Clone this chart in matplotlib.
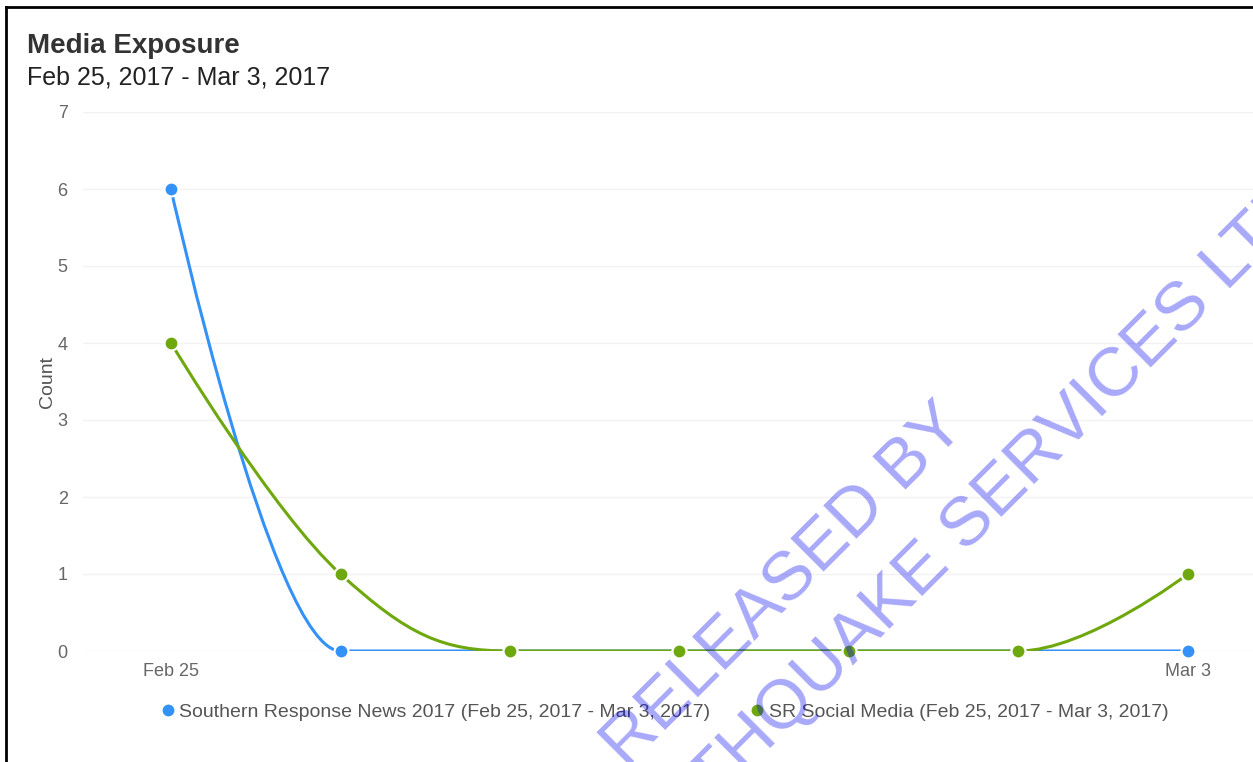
import numpy as np
import matplotlib
matplotlib.use("Agg")
import matplotlib.pyplot as plt
from matplotlib.path import Path
from matplotlib.patches import PathPatch
from matplotlib.lines import Line2D

plt.rcParams['font.family'] = ['Liberation Sans', 'DejaVu Sans']

# data
days = ['Feb 25', 'Feb 26', 'Feb 27', 'Feb 28', 'Mar 1', 'Mar 2', 'Mar 3']
news = [6, 0, 0, 0, 0, 0, 0]
social = [4, 1, 0, 0, 0, 0, 1]
news_label = 'Southern Response News 2017 (Feb 25, 2017 - Mar 3, 2017)'
social_label = 'SR Social Media (Feb 25, 2017 - Mar 3, 2017)'
yticks = [0, 1, 2, 3, 4, 5, 6, 7]

blue = '#3391f7'
green = '#6ea80e'


def spline_path(xs, ys, smooth=1.5):
    # highcharts style spline, control points from neighbours
    n = len(xs)
    left = [None] * n
    right = [None] * n
    for i in range(1, n - 1):
        lx, ly = xs[i - 1], ys[i - 1]
        px, py = xs[i], ys[i]
        nx, ny = xs[i + 1], ys[i + 1]
        d = smooth + 1
        lcx, lcy = (smooth * px + lx) / d, (smooth * py + ly) / d
        rcx, rcy = (smooth * px + nx) / d, (smooth * py + ny) / d
        corr = (rcy - lcy) * (rcx - px) / (rcx - lcx) + py - rcy
        lcy += corr
        rcy += corr
        if lcy > max(ly, py):
            lcy = max(ly, py)
            rcy = 2 * py - lcy
        elif lcy < min(ly, py):
            lcy = min(ly, py)
            rcy = 2 * py - lcy
        if rcy > max(py, ny):
            rcy = max(py, ny)
            lcy = 2 * py - rcy
        elif rcy < min(py, ny):
            rcy = min(py, ny)
            lcy = 2 * py - rcy
        left[i] = (lcx, lcy)
        right[i] = (rcx, rcy)
    verts = [(xs[0], ys[0])]
    codes = [Path.MOVETO]
    for i in range(1, n):
        c1 = right[i - 1] or (xs[i - 1], ys[i - 1])
        c2 = left[i] or (xs[i], ys[i])
        verts += [c1, c2, (xs[i], ys[i])]
        codes += [Path.CURVE4] * 3
    return Path(verts, codes)


W, H = 1253, 762
fig = plt.figure(figsize=(W / 100, H / 100), dpi=100)
ax = fig.add_axes([83 / W, 1 - 651 / H, (W - 83) / W, (651 - 112) / H])

x = np.arange(len(days))
for vals, col, lab in [(news, blue, news_label), (social, green, social_label)]:
    ax.add_patch(PathPatch(spline_path(list(x), vals), fill=False, edgecolor=col,
                           lw=2.2, capstyle='round', zorder=3))
    ax.plot(x, vals, 'o', color=col, ms=10, mec='white', mew=1.5,
            zorder=4, clip_on=False, label=lab)

ax.set_xlim(-(171 - 83) / 169.5, 6 + (W - 1188) / 169.5)
ax.set_ylim(0, 7)
ax.set_yticks(yticks)
ax.set_xticks([0, 6])
ax.set_xticklabels([days[0], days[-1]])
ax.tick_params(length=0, colors='#666666', labelsize=13)
ax.tick_params(axis='y', pad=11)
ax.tick_params(axis='x', pad=9)
ax.grid(axis='y', color='#f2f2f2', lw=1)
ax.set_axisbelow(True)
for s in ax.spines.values():
    s.set_visible(False)
ax.set_ylabel('Count', fontsize=14, color='#555555')
ax.yaxis.set_label_coords(-0.023, 0.5)

fig.text(27 / W, 1 - 46 / H, 'Media Exposure', fontsize=20, fontweight='bold',
         color='#333333', va='center', ha='left')
fig.text(27 / W, 1 - 78 / H, 'Feb 25, 2017 - Mar 3, 2017', fontsize=18,
         color='#222222', va='center', ha='left')

fig.legend(loc='center', bbox_to_anchor=(665 / W, 1 - 712 / H), ncol=2,
           frameon=False, fontsize=14, handlelength=0.6, handletextpad=0.3,
           columnspacing=2.1, labelcolor='#555555', markerscale=1.0)

# border (cropped on right and bottom)
fig.add_artist(Line2D([6 / W, 6 / W], [0, 1 - 7 / H], color='black', lw=2))
fig.add_artist(Line2D([6 / W, 1], [1 - 7 / H, 1 - 7 / H], color='black', lw=2))

# watermark, see-through over the chart
wm = (0.0, 0.0, 0.94)
fig.text(797 / W, 1 - 599 / H, 'RELEASED BY', fontsize=50, color=wm, alpha=0.34,
         rotation=45, rotation_mode='anchor', ha='center', va='baseline', zorder=10)
fig.text(965 / W, 1 - 554 / H, 'EARTHQUAKE SERVICES LTD', fontsize=50, color=wm,
         alpha=0.34, rotation=45, rotation_mode='anchor', ha='center', va='baseline',
         zorder=10)

fig.savefig('out.png', dpi=100)
